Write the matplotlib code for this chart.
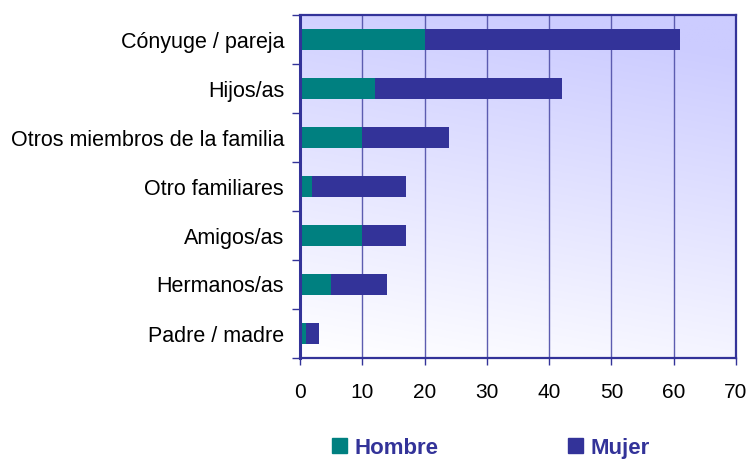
import matplotlib
matplotlib.use("Agg")
import matplotlib.pyplot as plt
import numpy as np
from matplotlib.patches import Patch

plt.rcParams["font.family"] = ["Liberation Sans", "DejaVu Sans"]

# Data (top to bottom as shown)
categories = ["Cónyuge / pareja", "Hijos/as", "Otros miembros de la familia",
              "Otro familiares", "Amigos/as", "Hermanos/as", "Padre / madre"]
hombre = [20, 12, 10, 2, 10, 5, 1]
mujer = [41, 30, 14, 15, 7, 9, 2]
x_ticks = [0, 10, 20, 30, 40, 50, 60, 70]

TEAL = "#008080"
NAVY = "#333399"

fig = plt.figure(figsize=(7.47, 4.61), dpi=100)
ax = fig.add_axes([300 / 747, 1 - 358 / 461, 436 / 747, 343 / 461])

# gradient background: lavender at top fading to white at the bottom
ny, nx = 200, 200
yy, xx = np.mgrid[0:1:ny * 1j, 0:1:nx * 1j]
t = np.clip(0.9 * yy + 0.2 * xx, 0, 1)
top = np.array([0.80, 0.80, 1.0])
bot = np.array([1.0, 1.0, 1.0])
img = bot + (top - bot) * t[..., None]
ax.imshow(img, extent=[0, 1, 0, 1], transform=ax.transAxes, origin="lower",
          aspect="auto", zorder=0)

n = len(categories)
ypos = np.arange(n)[::-1]
h = 0.41
ax.barh(ypos, hombre, height=h, color=TEAL, zorder=3, label="Hombre")
ax.barh(ypos, mujer, left=hombre, height=h, color=NAVY, zorder=3, label="Mujer")

ax.set_xlim(0, 70)
ax.set_ylim(-0.5, n - 0.5)
ax.set_xticks(x_ticks)
ax.set_xticklabels([str(v) for v in x_ticks], fontsize=15)
ax.tick_params(axis="x", length=5, width=1, color=NAVY, pad=13)

ax.set_yticks(np.arange(n + 1) - 0.5)
ax.set_yticklabels([])
ax.set_yticks(ypos, minor=True)
ax.set_yticklabels(categories, minor=True, fontsize=15.5)
ax.tick_params(axis="y", which="major", length=6, width=1, color=NAVY)
ax.tick_params(axis="y", which="minor", length=0, pad=11.5)

ax.xaxis.grid(True, color="#5c5cb0", lw=1, zorder=1)
ax.set_axisbelow(True)
for side, sp in ax.spines.items():
    sp.set_color(NAVY)
    sp.set_linewidth(1.6)
    sp.set_zorder(4)
ax.spines["left"].set_linewidth(2.2)

handles = [Patch(color=TEAL, label="Hombre"), Patch(color=NAVY, label="Mujer")]
leg = fig.legend(handles=handles, loc="center", bbox_to_anchor=(491 / 747, 1 - 448 / 461),
                 ncol=2, frameon=False, handlelength=0.68, handleheight=0.68,
                 handletextpad=0.35, columnspacing=5.8,
                 prop={"size": 16, "weight": "bold"})
for txt in leg.get_texts():
    txt.set_color(NAVY)

fig.savefig("out.png", dpi=100)
